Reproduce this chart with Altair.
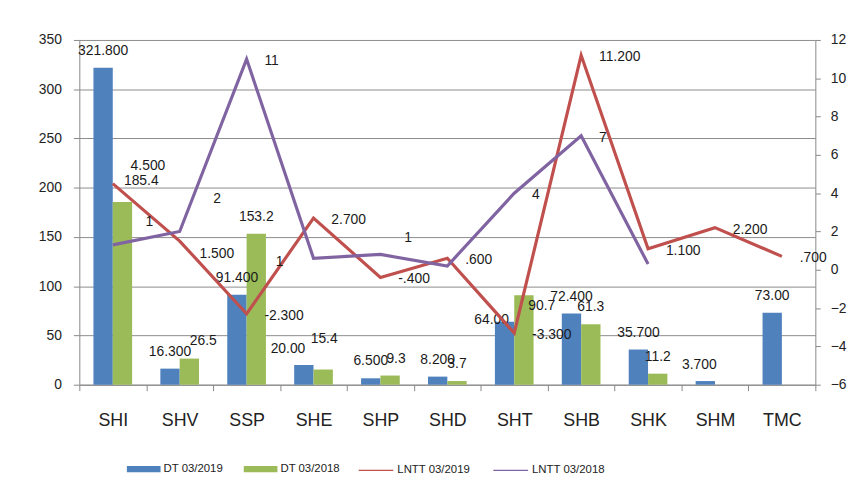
import altair as alt
import pandas as pd

categories = ["SHI", "SHV", "SSP", "SHE", "SHP", "SHD", "SHT", "SHB", "SHK", "SHM", "TMC"]

dt_2019 = [321.8, 16.3, 91.4, 20.0, 6.5, 8.2, 64.0, 72.4, 35.7, 3.7, 73.0]
dt_2019_labels = ["321.800", "16.300", "91.400", "20.00", "6.500", "8.200", "64.00", "72.400", "35.700", "3.700", "73.00"]

dt_2018 = [185.4, 26.5, 153.2, 15.4, 9.3, 3.7, 90.7, 61.3, 11.2, None, None]
dt_2018_labels = ["185.4", "26.5", "153.2", "15.4", "9.3", "3.7", "90.7", "61.3", "11.2", "", ""]

lntt_2019 = [4.5, 1.5, -2.3, 2.7, -0.4, 0.6, -3.3, 11.2, 1.1, 2.2, 0.7]
lntt_2019_labels = ["4.500", "1.500", "-2.300", "2.700", "-.400", ".600", "-3.300", "11.200", "1.100", "2.200", ".700"]

lntt_2018 = [1.3, 2.0, 11.0, 0.6, 0.8, 0.2, 4.0, 7.0, 0.3, None, None]
lntt_2018_labels = ["1", "2", "11", "1", "1", "", "4", "7", "", "", ""]

bar_series = ["DT 03/2019", "DT 03/2018"]
line_series = ["LNTT 03/2019", "LNTT 03/2018"]

left_ticks = [0, 50, 100, 150, 200, 250, 300, 350]
right_ticks = [-6, -4, -2, 0, 2, 4, 6, 8, 10, 12]

# Styling: label offsets (pixels) mimicking the hand-placed labels of the original
BAR_LABEL_OFFSET = (0, -17)
LINE_LABEL_OFFSET = (18, 2)
label_nudges = {
    ("DT 03/2018", "SHI"): (19, -21),
    ("DT 03/2018", "SHV"): (14, -18),
    ("DT 03/2019", "SHE"): (-16, -16),
    ("DT 03/2018", "SHE"): (1, -31),
    ("DT 03/2018", "SHP"): (6, -17),
    ("DT 03/2019", "SHT"): (-13, -2),
    ("DT 03/2018", "SHT"): (18, 11),
    ("DT 03/2019", "SHM"): (-6, -16),
    ("LNTT 03/2019", "SHI"): (18, -18),
    ("LNTT 03/2019", "SHV"): (20, 13),
    ("LNTT 03/2018", "SHI"): (33, -23),
    ("LNTT 03/2018", "SHV"): (34, -33),
    ("LNTT 03/2018", "SHE"): (-38, 4),
    ("LNTT 03/2018", "SHP"): (24, -17),
}

FONT = "Liberation Sans"


def long_table(series_list):
    rows = []
    for s, vals, labs in series_list:
        for c, v, l in zip(categories, vals, labs):
            if v is not None:
                rows.append({"cat": c, "series": s, "value": v, "label": l})
    return pd.DataFrame(rows)


bars_df = long_table([(bar_series[0], dt_2019, dt_2019_labels),
                      (bar_series[1], dt_2018, dt_2018_labels)])
lines_df = long_table([(line_series[0], lntt_2019, lntt_2019_labels),
                       (line_series[1], lntt_2018, lntt_2018_labels)])


def offsets_for(df, default):
    return [label_nudges.get((s, c), default) for s, c in zip(df["series"], df["cat"])]


bars_df["off"] = [f"{a},{b}" for a, b in offsets_for(bars_df, BAR_LABEL_OFFSET)]
lines_df["off"] = [f"{a},{b}" for a, b in offsets_for(lines_df, LINE_LABEL_OFFSET)]

x_axis = alt.Axis(title=None, labelAngle=0, labelFontSize=18, labelFont=FONT,
                  labelColor="#222222", tickBand="extent", tickSize=6,
                  tickColor="#888888", domainColor="#888888", labelPadding=21,
                  grid=False)
x_scale = alt.Scale(paddingInner=0, paddingOuter=0)

left_axis = alt.Axis(title=None, values=left_ticks, grid=True, gridColor="#8c8c8c",
                     tickSize=6, tickColor="#888888", domainColor="#888888",
                     labelFontSize=14, labelFont=FONT, labelColor="#222222",
                     labelPadding=12, orient="left", labelOverlap=False)
left_scale = alt.Scale(domain=[0, 350], nice=False)

right_axis = alt.Axis(title=None, values=right_ticks, grid=False, orient="right",
                      tickSize=5, tickColor="#888888", domainColor="#888888",
                      labelFontSize=14, labelFont=FONT, labelColor="#222222",
                      labelPadding=10, labelOverlap=False)
right_scale = alt.Scale(domain=[-6, 12], nice=False)


def X():
    return alt.X("cat:N", sort=categories, scale=x_scale, axis=x_axis)


xoff = alt.XOffset("series:N", sort=bar_series,
                   scale=alt.Scale(domain=bar_series, paddingOuter=0.73, paddingInner=0))

bars = alt.Chart(bars_df).mark_bar().encode(
    x=X(),
    xOffset=xoff,
    y=alt.Y("value:Q", scale=left_scale, axis=left_axis),
    color=alt.Color("series:N", sort=bar_series,
                    scale=alt.Scale(domain=bar_series, range=["#4f81bd", "#9bbb59"]),
                    legend=alt.Legend(title=None, orient="none", direction="horizontal",
                                      legendX=48, legendY=416,
                                      symbolType="M-1,-0.18H1V0.18H-1Z", symbolSize=1156,
                                      symbolStrokeWidth=0, symbolOpacity=1,
                                      labelFont=FONT, labelFontSize=11.5, labelColor="#222222",
                                      labelOffset=3, columnPadding=20)),
)


def text_layers(df, xo, align, yscale, yaxis):
    layers = []
    for off in sorted(df["off"].unique()):
        dx, dy = (int(v) for v in off.split(","))
        enc = dict(
            x=X(),
            y=alt.Y("value:Q", scale=yscale, axis=yaxis),
            text="label:N",
        )
        if xo:
            enc["xOffset"] = xoff
        layers.append(
            alt.Chart(df).transform_filter(alt.datum.off == off)
            .mark_text(dx=dx, dy=dy, align=align, fontSize=14, font=FONT, color="#1a1a1a")
            .encode(**enc)
        )
    return layers


lines = alt.Chart(lines_df).mark_line(strokeWidth=3.2).encode(
    x=X(),
    y=alt.Y("value:Q", scale=right_scale, axis=right_axis),
    color=alt.Color("series:N", sort=line_series,
                    scale=alt.Scale(domain=line_series, range=["#c0504d", "#8064a2"]),
                    legend=alt.Legend(title=None, orient="none", direction="horizontal",
                                      legendX=281, legendY=416,
                                      symbolType="stroke", symbolSize=1225,
                                      symbolStrokeWidth=1.5,
                                      labelFont=FONT, labelFontSize=11.5, labelColor="#222222",
                                      labelOffset=3, columnPadding=20)),
    detail="series:N",
)

left_layer = alt.layer(bars, *text_layers(bars_df, True, "center", left_scale, left_axis))
right_layer = alt.layer(lines, *text_layers(lines_df, False, "left", right_scale, right_axis))

chart = alt.layer(left_layer, right_layer).resolve_scale(
    y="independent", color="independent"
).properties(
    width=743, height=348,
    autosize=alt.AutoSizeParams(type="none"),
    padding={"left": 72, "top": 30, "right": 36, "bottom": 100},
    background="white",
).configure_view(strokeWidth=0)

chart.save("out.html", embed_options={"renderer": "svg", "actions": False})
